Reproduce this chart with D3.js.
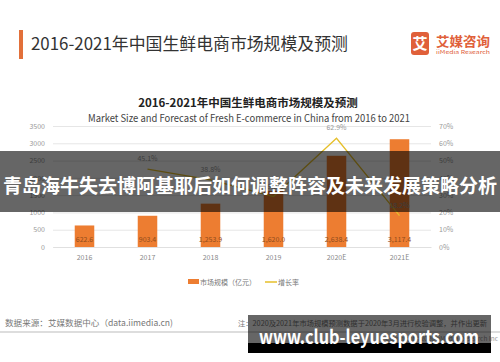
<!DOCTYPE html>
<html>
<head>
<meta charset="utf-8">
<script src="https://cdn.jsdelivr.net/npm/d3@7"></script>
<style>
  html, body { margin: 0; padding: 0; background: #fff; }
  svg { display: block; font-family: "Noto Sans CJK SC", "Noto Sans", sans-serif; }
</style>
</head>
<body>
<script>
// donnees
const years = ['2016', '2017', '2018', '2019', '2020E', '2021E']
const marketSize = [622.6, 903.4, 1253.9, 1620.0, 2638.4, 3117.4]
const growthRate = [null, 45.1, 38.8, 29.2, 62.9, 18.2]
const leftTicks = [0, 500, 1000, 1500, 2000, 2500, 3000, 3500]
const rightTicks = [0, 10, 20, 30, 40, 50, 60, 70]
const legendLabels = ['市场规模（亿元）', '增长率']

const W = 500, H = 362
const ORANGE = '#ed7d31', GOLD = '#e6bf2a'

const svg = d3.select('body').append('svg')
  .attr('width', W).attr('height', H)

// en-tete
svg.append('rect').attr('x', 19).attr('y', 30).attr('width', 4).attr('height', 29).attr('fill', '#e2703a')
svg.append('text').attr('x', 31).attr('y', 50)
  .attr('font-size', 17).attr('fill', '#333')
  .attr('textLength', 317).attr('lengthAdjust', 'spacingAndGlyphs')
  .text('2016-2021年中国生鲜电商市场规模及预测')

// logo
svg.append('rect').attr('x', 411).attr('y', 32).attr('width', 18).attr('height', 23).attr('rx', 3).attr('fill', '#e0603a')
svg.append('text').attr('x', 420).attr('y', 49).attr('text-anchor', 'middle')
  .attr('font-size', 15).attr('font-weight', 'bold').attr('fill', '#fff').text('艾')
svg.append('text').attr('x', 436).attr('y', 46)
  .attr('font-size', 13).attr('font-weight', 'bold').attr('fill', '#e0603a')
  .attr('textLength', 54).attr('lengthAdjust', 'spacingAndGlyphs').text('艾媒咨询')
svg.append('text').attr('x', 436).attr('y', 54)
  .attr('font-size', 5).attr('fill', '#e0603a')
  .attr('textLength', 54).attr('lengthAdjust', 'spacingAndGlyphs').text('iiMedia Research')

// titre du graphique
svg.append('text').attr('x', 248).attr('y', 107).attr('text-anchor', 'middle')
  .attr('font-size', 11.5).attr('font-weight', 'bold').attr('fill', '#222')
  .text('2016-2021年中国生鲜电商市场规模及预测')
svg.append('text').attr('x', 249).attr('y', 122).attr('text-anchor', 'middle')
  .attr('font-size', 10.5).attr('fill', '#444')
  .attr('textLength', 322).attr('lengthAdjust', 'spacingAndGlyphs')
  .text('Market Size and Forecast of Fresh E-commerce in China from 2016 to 2021')

// echelles
const x = d3.scaleBand().domain(years).range([53, 431]).paddingInner(0.69).paddingOuter(0.345)
const y = d3.scaleLinear().domain([0, 3500]).range([247, 126])
const yR = d3.scaleLinear().domain([0, 70]).range([247, 126])

// grille + axe gauche
const axisL = svg.append('g').attr('transform', 'translate(53,0)')
  .call(d3.axisLeft(y).tickValues(leftTicks).tickSize(-378).tickPadding(8).tickFormat(d3.format('d')))
axisL.select('.domain').remove()
axisL.selectAll('line').attr('stroke', '#e6e6e6')
axisL.selectAll('text').attr('font-size', 7).attr('fill', '#999').attr('font-family', 'Noto Sans CJK SC')

// axe droit
const axisR = svg.append('g').attr('transform', 'translate(436,0)')
  .call(d3.axisRight(yR).tickValues(rightTicks).tickSize(0).tickFormat(d => d + '%'))
axisR.select('.domain').remove()
axisR.selectAll('text').attr('font-size', 7).attr('fill', '#999').attr('font-family', 'Noto Sans CJK SC')

// axe des categories
const axisB = svg.append('g').attr('transform', 'translate(0,247)')
  .call(d3.axisBottom(x).tickSize(0).tickPadding(8))
axisB.select('.domain').attr('stroke', '#e0e0e0')
axisB.selectAll('text').attr('font-size', 7).attr('fill', '#888').attr('font-family', 'Noto Sans CJK SC')

// barres
svg.append('g').selectAll('rect')
  .data(marketSize)
  .join('rect')
  .attr('x', (d, i) => x(years[i]))
  .attr('y', d => y(d))
  .attr('width', x.bandwidth())
  .attr('height', d => y(0) - y(d))
  .attr('fill', ORANGE)

svg.append('g').selectAll('text')
  .data(marketSize)
  .join('text')
  .attr('x', (d, i) => x(years[i]) + x.bandwidth() / 2)
  .attr('y', y(0) - 5)
  .attr('text-anchor', 'middle')
  .attr('font-size', 7).attr('fill', '#8f4c1c')
  .text(d => d3.format(',.1f')(d))

// ligne du taux de croissance
const pts = growthRate.map((g, i) => ({ year: years[i], g })).filter(p => p.g !== null)
const line = d3.line()
  .x(p => x(p.year) + x.bandwidth() / 2)
  .y(p => yR(p.g))

svg.append('path').datum(pts)
  .attr('d', line)
  .attr('fill', 'none').attr('stroke', GOLD).attr('stroke-width', 1.3)

svg.append('g').selectAll('text')
  .data(pts)
  .join('text')
  .attr('x', p => x(p.year) + x.bandwidth() / 2)
  .attr('y', p => yR(p.g) - 8)
  .attr('text-anchor', 'middle')
  .attr('font-size', 7).attr('fill', '#999')
  .text(p => p.g.toFixed(1) + '%')

// legende
const leg = svg.append('g').attr('transform', 'translate(188,282)')
leg.append('rect').attr('x', 0).attr('y', -3).attr('width', 11).attr('height', 5).attr('fill', ORANGE)
leg.append('text').attr('x', 12).attr('y', 2.5).attr('font-size', 7).attr('fill', '#777').text(legendLabels[0])
leg.append('line').attr('x1', 77).attr('x2', 89).attr('y1', 0).attr('y2', 0).attr('stroke', GOLD).attr('stroke-width', 1.5)
leg.append('text').attr('x', 90).attr('y', 2.5).attr('font-size', 7).attr('fill', '#777').text(legendLabels[1])

// pied de page
svg.append('text').attr('x', 5).attr('y', 326)
  .attr('font-size', 8.5).attr('fill', '#777')
  .attr('textLength', 168).attr('lengthAdjust', 'spacingAndGlyphs')
  .text('数据来源：艾媒数据中心（data.iimedia.cn)')
svg.append('text').attr('x', 238).attr('y', 326)
  .attr('font-size', 7.3).attr('fill', '#777')
  .attr('textLength', 249).attr('lengthAdjust', 'spacingAndGlyphs')
  .text('注：2020及2021年市场规模预测数据于2020年3月进行校验调整，并作出更新')
svg.append('line').attr('x1', 0).attr('x2', W).attr('y1', 332).attr('y2', 332)
  .attr('stroke', '#bbb').attr('stroke-width', 1)
svg.append('text').attr('x', 498).attr('y', 341).attr('text-anchor', 'end')
  .attr('font-size', 6.5).attr('fill', '#999')
  .text('Copyright©2020 iiMedia Research Inc')

// bandeau sombre avec titre
svg.append('rect').attr('x', 0).attr('y', 151).attr('width', W).attr('height', 61)
  .attr('fill', '#000').attr('opacity', 0.6)
svg.append('text').attr('x', 250).attr('y', 193).attr('text-anchor', 'middle')
  .attr('font-size', 19).attr('font-weight', 'bold').attr('fill', '#fff')
  .attr('textLength', 494).attr('lengthAdjust', 'spacingAndGlyphs')
  .text('青岛海牛失去博阿基耶后如何调整阵容及未来发展策略分析')

// filigrane en bas
svg.append('rect').attr('x', 248).attr('y', 315).attr('width', 243).attr('height', 28)
  .attr('fill', '#000').attr('opacity', 0.6)
svg.append('rect').attr('x', 248).attr('y', 343).attr('width', 243).attr('height', 10)
  .attr('fill', '#000')
svg.append('text').attr('x', 369).attr('y', 344).attr('text-anchor', 'middle')
  .attr('font-size', 19).attr('font-weight', 'bold').attr('fill', '#fff')
  .attr('textLength', 220).attr('lengthAdjust', 'spacingAndGlyphs')
  .text('www.club-leyuesports.com')
</script>
</body>
</html>
